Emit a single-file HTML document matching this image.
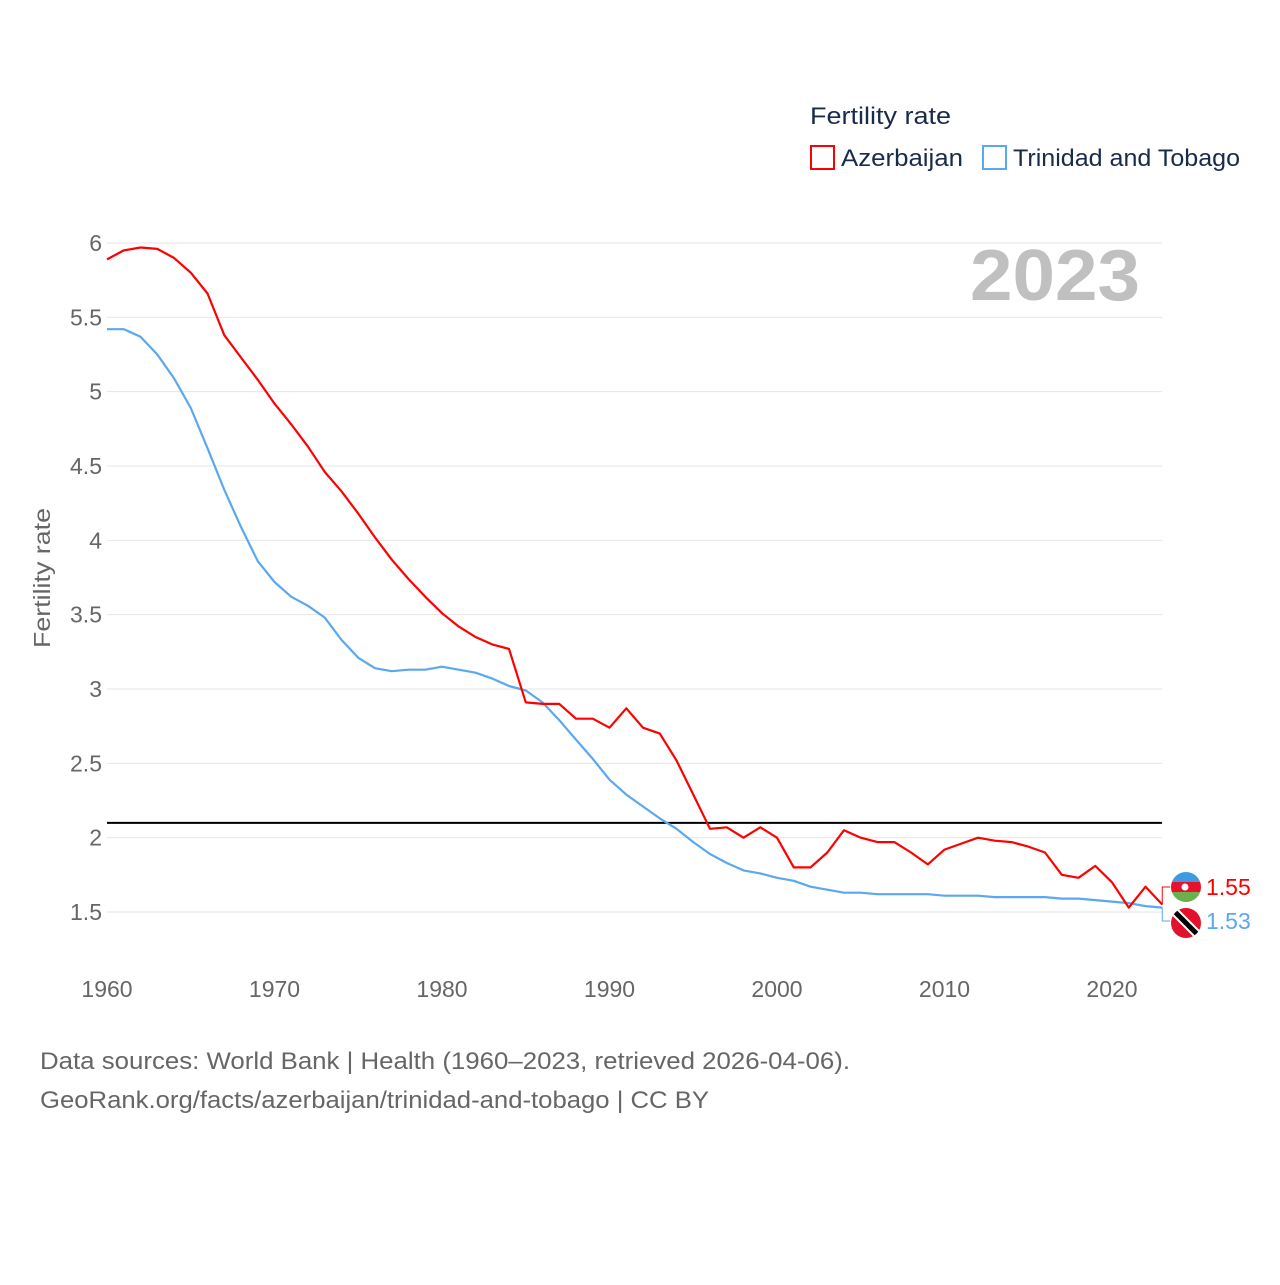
<!DOCTYPE html>
<html><head><meta charset="utf-8">
<style>
body{margin:0;background:#fff;font-family:"Liberation Sans",sans-serif;}
svg text{font-family:"Liberation Sans",sans-serif;}
</style></head>
<body>
<svg id="chart" width="1280" height="1280" xmlns="http://www.w3.org/2000/svg">
<rect width="1280" height="1280" fill="#fff"/>
<g id="grid"></g>
<g id="yticks"></g>
<g id="xticks"></g>
<text transform="translate(50,578) rotate(-90)" text-anchor="middle" font-size="23" fill="#666" textLength="140" lengthAdjust="spacingAndGlyphs">Fertility rate</text>
<text x="970" y="300" font-size="72" font-weight="bold" fill="#c0c0c0" textLength="170" lengthAdjust="spacingAndGlyphs">2023</text>
<g id="series"></g>
<g>
<text x="810" y="124" font-size="24" fill="#1a2b4a" textLength="141" lengthAdjust="spacingAndGlyphs">Fertility rate</text>
<rect x="811" y="146" width="23" height="23" fill="none" stroke="#ff0000" stroke-width="2"/>
<text x="841" y="166" font-size="24" fill="#1a2b4a" textLength="122" lengthAdjust="spacingAndGlyphs">Azerbaijan</text>
<rect x="983" y="146" width="23" height="23" fill="none" stroke="#5aa8ef" stroke-width="2"/>
<text x="1013" y="166" font-size="24" fill="#1a2b4a" textLength="227" lengthAdjust="spacingAndGlyphs">Trinidad and Tobago</text>
</g>
<text x="40" y="1069" font-size="24" fill="#666" textLength="810" lengthAdjust="spacingAndGlyphs">Data sources: World Bank | Health (1960–2023, retrieved 2026-04-06).</text>
<text x="40" y="1108" font-size="24" fill="#666" textLength="669" lengthAdjust="spacingAndGlyphs">GeoRank.org/facts/azerbaijan/trinidad-and-tobago | CC BY</text>
</svg>
<script>
const years=[];for(let y=1960;y<=2023;y++)years.push(y);
const azerbaijan=[5.89,5.95,5.97,5.96,5.9,5.8,5.66,5.38,5.23,5.08,4.92,4.78,4.63,4.46,4.33,4.18,4.02,3.87,3.74,3.62,3.51,3.42,3.35,3.30,3.27,2.91,2.90,2.90,2.80,2.80,2.74,2.87,2.74,2.70,2.52,2.29,2.06,2.07,2.00,2.07,2.00,1.80,1.80,1.90,2.05,2.00,1.97,1.97,1.90,1.82,1.92,1.96,2.00,1.98,1.97,1.94,1.90,1.75,1.73,1.81,1.70,1.53,1.67,1.55];
const trinidad=[5.42,5.42,5.37,5.25,5.09,4.89,4.62,4.34,4.09,3.86,3.72,3.62,3.56,3.48,3.33,3.21,3.14,3.12,3.13,3.13,3.15,3.13,3.11,3.07,3.02,2.99,2.91,2.79,2.66,2.53,2.39,2.29,2.21,2.13,2.06,1.97,1.89,1.83,1.78,1.76,1.73,1.71,1.67,1.65,1.63,1.63,1.62,1.62,1.62,1.62,1.61,1.61,1.61,1.60,1.60,1.60,1.60,1.59,1.59,1.58,1.57,1.56,1.54,1.53];
const yTicks=[1.5,2,2.5,3,3.5,4,4.5,5,5.5,6];
const xTicks=[1960,1970,1980,1990,2000,2010,2020];
const replacement=[2.1];
const NS="http://www.w3.org/2000/svg";
const x=v=>107+(v-1960)*16.75;
const y=v=>243+(6-v)*148.67;
function mk(tag,attrs,parent,txt){const e=document.createElementNS(NS,tag);for(const k in attrs)e.setAttribute(k,attrs[k]);if(txt!==undefined)e.textContent=txt;document.getElementById(parent).appendChild(e);return e;}
yTicks.forEach(t=>{
 const l=mk('line',{x1:107,x2:1162,y1:y(t),y2:y(t),stroke:'#e6e6e6','stroke-width':1},'grid');
 
 
 const tx=mk('text',{x:102,y:y(t)+8,'text-anchor':'end','font-size':23,fill:'#666'},'yticks',String(t));
 
 
});
xTicks.forEach(t=>{
 const tx=mk('text',{x:x(t),y:997,'text-anchor':'middle','font-size':23,fill:'#666'},'xticks',String(t));
 
 
});
replacement.forEach(v=>{
 const l=mk('line',{x1:107,x2:1162,y1:y(v),y2:y(v),stroke:'#000','stroke-width':2},'series');
 
 
});
function line(data,color,name){
 const d=data.map((v,i)=>(i?'L':'M')+x(years[i]).toFixed(1)+','+y(v).toFixed(1)).join('');
 const p=mk('path',{d:d,fill:'none',stroke:color,'stroke-width':2.2,'stroke-linejoin':'round'},'series');
 
 
}
line(trinidad,'#5aa8ef','trinidad-line');
line(azerbaijan,'#ff0000','azerbaijan-line');
const la=azerbaijan[azerbaijan.length-1], lt=trinidad[trinidad.length-1];
const xe=x(2023);
const ya=Math.min(y(la),887), yt=Math.max(y(lt),921);
const c1=mk('path',{d:`M${xe},${y(la)}L${xe},${ya}L${xe+8},${ya}`,fill:'none',stroke:'#ff0000','stroke-width':1},'series');

const c2=mk('path',{d:`M${xe},${y(lt)}L${xe},${yt}L${xe+8},${yt}`,fill:'none',stroke:'#5aa8ef','stroke-width':1},'series');

const fa=mk('g',{},'series');
fa.innerHTML=`<clipPath id="ca"><circle cx="1186" cy="${ya}" r="15"/></clipPath><g clip-path="url(#ca)"><rect x="1170" y="${ya-15}" width="32" height="10" fill="#3f9be0"/><rect x="1170" y="${ya-5}" width="32" height="10" fill="#e8112d"/><rect x="1170" y="${ya+5}" width="32" height="10" fill="#6ab04c"/><circle cx="1185" cy="${ya}" r="3.5" fill="#fff"/></g>`;
const ft=mk('g',{},'series');
ft.innerHTML=`<clipPath id="ct"><circle cx="1186" cy="${yt+2}" r="15"/></clipPath><g clip-path="url(#ct)"><rect x="1170" y="${yt-13}" width="32" height="32" fill="#e2122d"/><line x1="1172" y1="${yt-12}" x2="1200" y2="${yt+16}" stroke="#fff" stroke-width="9"/><line x1="1172" y1="${yt-12}" x2="1200" y2="${yt+16}" stroke="#000" stroke-width="5"/></g>`;
const ta=mk('text',{x:1206,y:ya+8,'font-size':23,fill:'#ff0000'},'series',la.toFixed(2));

const tt=mk('text',{x:1206,y:yt+8,'font-size':23,fill:'#5aa8ef'},'series',lt.toFixed(2));

</script>
</body></html>
